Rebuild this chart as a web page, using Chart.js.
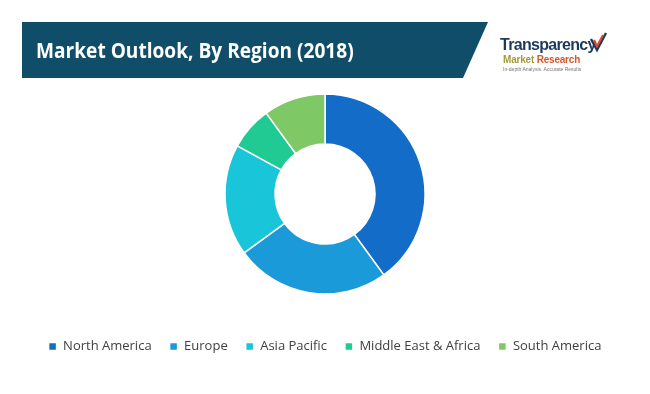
<!DOCTYPE html>
<html lang="en">
<head>
<meta charset="utf-8">
<title>Market Outlook, By Region (2018)</title>
<script src="https://cdn.jsdelivr.net/npm/chart.js@4/dist/chart.umd.min.js"></script>
<style>
  html, body { margin:0; padding:0; background:#fff; }
  #wrap { position:relative; width:650px; height:394px; overflow:hidden; }
  #band { position:absolute; left:22px; top:22px; width:466px; height:56px; background:#0f4d68;
          clip-path: polygon(0 0, 100% 0, 441px 100%, 0 100%); }
  #title { position:absolute; left:36px; top:36px; color:#fff; font-family:"Open Sans", sans-serif;
           font-weight:700; font-size:21px; white-space:nowrap; transform-origin:0 0; transform:scaleX(0.91); }
  #logo { position:absolute; left:500px; top:36px; font-family:"Liberation Sans", Arial, sans-serif; }
  #logo .t1 { font-size:16px; color:#1d3a5c; letter-spacing:-0.7px; font-weight:700; }
  #logo .t2 { font-size:10px; font-weight:700; letter-spacing:-0.2px; margin-top:0px; margin-left:3px; }
  #logo .t3 { font-size:5px; color:#777; margin-left:3px; margin-top:1px; }
  #chk { position:absolute; left:589px; top:30px; }
  #cv { position:absolute; left:0; top:0; }
</style>
</head>
<body>
<div id="wrap">
  <canvas id="cv" width="650" height="394"></canvas>
  <div id="band"></div>
  <div id="title">Market Outlook, By Region (2018)</div>
  <div id="logo">
    <div class="t1">Transparency</div>
    <div class="t2"><span style="color:#a59a3c">Market</span> <span style="color:#d4572f">Research</span></div>
    <div class="t3">In-depth Analysis. Accurate Results</div>
  </div>
  <svg id="chk" width="20" height="24" viewBox="0 0 20 24">
    <path d="M2 9 L8 20 L17 3" fill="none" stroke="#1d3a5c" stroke-width="2.4"/>
    <path d="M5 10 L8 16 L14 5" fill="none" stroke="#e2492b" stroke-width="2"/>
  </svg>
</div>
<script>
// region shares (%), read from the donut
var regions = ["North America", "Europe", "Asia Pacific", "Middle East & Africa", "South America"];
var shares = [40, 25, 18, 7, 10];
var colors = ["#136cc8", "#1b9ad9", "#19c5d8", "#1fcb92", "#7ec866"];

var ctx = document.getElementById("cv").getContext("2d");
var chart = new Chart(ctx, {
  type: "doughnut",
  data: {
    labels: regions,
    datasets: [{
      data: shares,
      backgroundColor: colors,
      borderColor: "#ffffff",
      borderWidth: 1.5,
      radius: 100,
      cutout: "50%"
    }]
  },
  options: {
    responsive: false,
    animation: false,
    layout: { padding: { top: 66, bottom: 31 } },
    plugins: {
      tooltip: { enabled: false },
      legend: {
        position: "bottom",
        labels: {
          boxWidth: 8,
          boxHeight: 8,
          padding: 18,
          color: "#404040",
          font: { family: "Open Sans", size: 13 }
        }
      }
    }
  }
});
</script>
</body>
</html>
